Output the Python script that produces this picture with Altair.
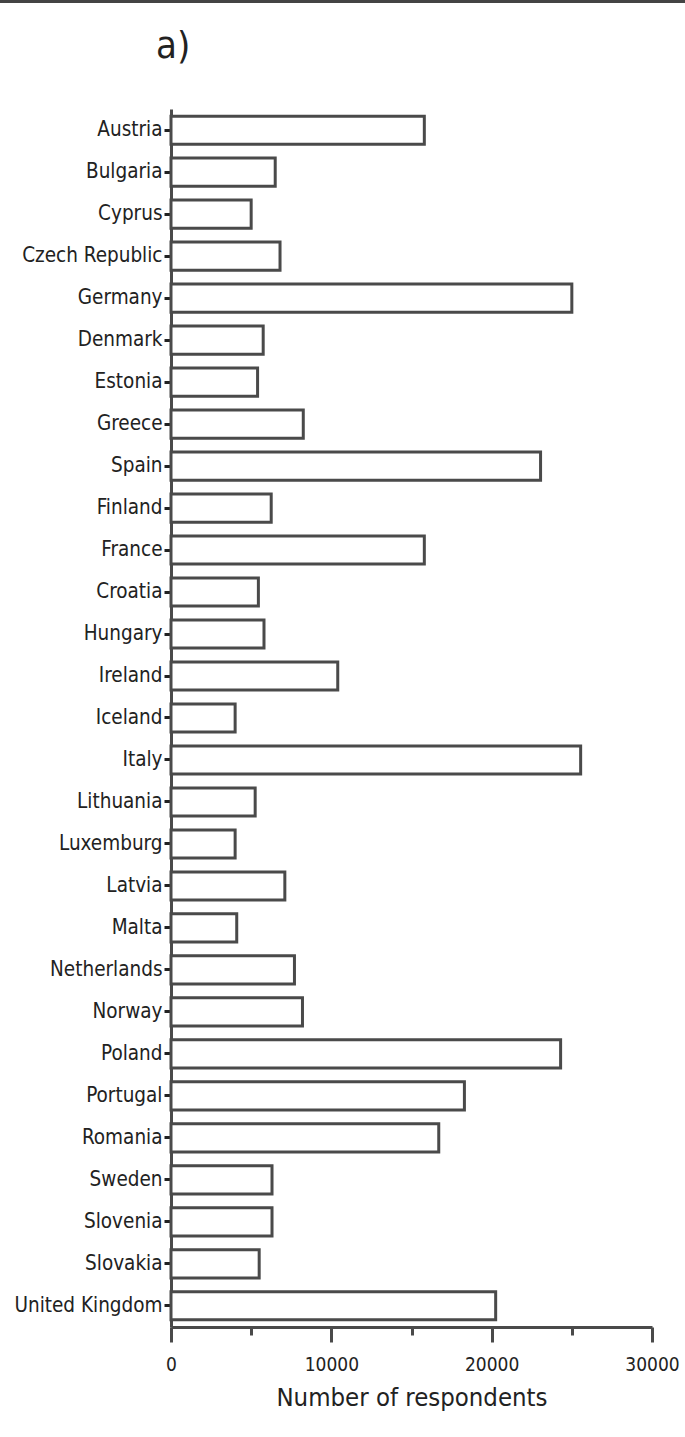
import altair as alt
import pandas as pd

# Respondents per country
countries = [
    "Austria", "Bulgaria", "Cyprus", "Czech Republic", "Germany", "Denmark",
    "Estonia", "Greece", "Spain", "Finland", "France", "Croatia", "Hungary",
    "Ireland", "Iceland", "Italy", "Lithuania", "Luxemburg", "Latvia", "Malta",
    "Netherlands", "Norway", "Poland", "Portugal", "Romania", "Sweden",
    "Slovenia", "Slovakia", "United Kingdom",
]
respondents = [
    15800, 6500, 5000, 6800, 25000, 5750,
    5400, 8250, 23050, 6250, 15800, 5450, 5800,
    10400, 4000, 25550, 5250, 4000, 7100, 4100,
    7700, 8200, 24300, 18300, 16700, 6300,
    6300, 5500, 20250,
]
major_ticks = [0, 10000, 20000, 30000]
minor_ticks = [5000, 15000, 25000]

df = pd.DataFrame({"country": countries, "n": respondents})

FONT = "Liberation Sans Narrow, DejaVu Sans Condensed, Liberation Sans, sans-serif"
INK = "#4a4a4a"
TEXT = "#222222"

x_scale = alt.Scale(domain=[0, 30000], nice=False)

bars = alt.Chart(df).mark_bar(
    fill="white", stroke=INK, strokeWidth=3
).encode(
    x=alt.X(
        "n:Q", scale=x_scale,
        axis=alt.Axis(
            values=major_ticks, title="Number of respondents", format="d",
            orient="bottom", labelFlush=False,
            titleFont=FONT, titleFontSize=25.5, titleFontWeight="normal",
            titleColor=TEXT, titlePadding=11,
            labelFont=FONT, labelFontSize=19, labelColor=TEXT,
            labelPadding=13, tickSize=15, tickWidth=3, tickColor=INK,
            domainColor=INK, domainWidth=3, grid=False,
        ),
    ),
    y=alt.Y(
        "country:N",
        sort=countries,
        scale=alt.Scale(paddingInner=0.33, paddingOuter=0.17),
        axis=alt.Axis(
            title=None, labelFont=FONT, labelFontSize=20.5, labelColor=TEXT,
            labelPadding=2, tickSize=7, tickWidth=3, tickColor=TEXT,
            domainColor=INK, domainWidth=3, grid=False,
        ),
    ),
)

# Minor ticks between the labelled ones
minor = alt.Chart(df).mark_point(opacity=0).encode(
    x=alt.X(
        "n:Q", scale=x_scale,
        axis=alt.Axis(
            values=minor_ticks, labels=False, title=None, orient="bottom",
            tickSize=8, tickWidth=3, tickColor=INK, domain=False, grid=False,
        ),
    ),
)

# Thin frame line along the top edge
frame = alt.Chart(df).mark_rule(color="#444444", strokeWidth=3).encode(
    x=alt.value(-171), x2=alt.value(514), y=alt.value(-108)
)

chart = (
    alt.layer(bars, minor, frame)
    .resolve_axis(x="independent")
    .properties(
        width=481,
        height=1218,
        autosize=alt.AutoSizeParams(type="none"),
        padding={"left": 171, "top": 109, "right": 33, "bottom": 110},
        title=alt.TitleParams(
            "a)", anchor="start", frame="group", dx=-15, offset=-96,
            baseline="alphabetic",
            font=FONT, fontSize=38, fontWeight="normal", color=TEXT,
        ),
    )
    .configure_view(stroke=None)
)

chart.save("out.html", embed_options={"renderer": "svg", "actions": False})
